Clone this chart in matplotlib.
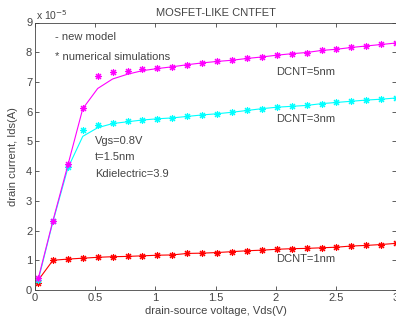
import matplotlib
matplotlib.use("Agg")
import matplotlib.pyplot as plt

plt.rcParams['font.family'] = ['Liberation Sans', 'DejaVu Sans']

vds = [0.025, 0.149, 0.273, 0.397, 0.521, 0.645, 0.769, 0.893, 1.017, 1.141,
       1.265, 1.389, 1.513, 1.637, 1.761, 1.885, 2.009, 2.133, 2.257, 2.381,
       2.505, 2.629, 2.753, 2.877, 3.0]

# numerical simulations (x 1e-5 A)
sim_5nm = [0.40, 2.33, 4.25, 6.11, 7.19, 7.34, 7.37, 7.43, 7.46, 7.51, 7.58,
           7.64, 7.69, 7.73, 7.79, 7.84, 7.90, 7.95, 7.99, 8.06, 8.10, 8.16,
           8.21, 8.26, 8.31]
sim_3nm = [0.35, 2.33, 4.15, 5.39, 5.56, 5.63, 5.67, 5.73, 5.76, 5.79, 5.84,
           5.89, 5.93, 5.98, 6.04, 6.10, 6.15, 6.18, 6.21, 6.27, 6.31, 6.35,
           6.39, 6.42, 6.46]
sim_1nm = [0.25, 1.00, 1.04, 1.07, 1.10, 1.12, 1.13, 1.15, 1.17, 1.18, 1.23,
           1.24, 1.26, 1.29, 1.32, 1.34, 1.37, 1.39, 1.40, 1.42, 1.44, 1.48,
           1.50, 1.53, 1.57]

# new model
mod_5nm = [0.35, 2.33, 4.20, 6.10, 6.78, 7.10, 7.26, 7.38, 7.45, 7.51, 7.58,
           7.64, 7.69, 7.73, 7.79, 7.84, 7.90, 7.95, 7.99, 8.06, 8.10, 8.16,
           8.21, 8.26, 8.31]
mod_3nm = [0.30, 2.30, 4.10, 5.17, 5.46, 5.60, 5.66, 5.72, 5.76, 5.79, 5.84,
           5.89, 5.93, 5.98, 6.04, 6.10, 6.15, 6.18, 6.21, 6.27, 6.31, 6.35,
           6.39, 6.42, 6.46]
mod_1nm = [0.32, 1.00, 1.04, 1.07, 1.10, 1.12, 1.13, 1.15, 1.17, 1.18, 1.23,
           1.24, 1.26, 1.29, 1.32, 1.34, 1.37, 1.39, 1.40, 1.42, 1.44, 1.48,
           1.50, 1.53, 1.57]

xticks = [0, 0.5, 1, 1.5, 2, 2.5, 3]
xticklabels = ['0', '0.5', '1', '1.5', '2', '2.5', '3']
yticks = [0, 1, 2, 3, 4, 5, 6, 7, 8, 9]

W, H = 396, 322
fig = plt.figure(figsize=(W / 100, H / 100), dpi=100)
ax = fig.add_axes([35 / W, (H - 290) / H, 361 / W, 267.5 / H])

tc = '#444444'
ast = (8, 2, 0)
for mod, sim, c in [(mod_1nm, sim_1nm, '#ff0000'), (mod_3nm, sim_3nm, '#00ffff'),
                    (mod_5nm, sim_5nm, '#ff00ff')]:
    ax.plot(vds, mod, '-', color=c, lw=0.8)
    ax.plot(vds, sim, linestyle='none', marker=ast, color=c, ms=5, mew=0.8)

ax.set_xlim(0, 3)
ax.set_ylim(0, 9)
ax.set_xticks(xticks)
ax.set_xticklabels(xticklabels)
ax.set_yticks(yticks)
ax.tick_params(direction='in', top=True, right=True, length=3, width=0.6,
               labelsize=8, colors=tc, pad=2)
for s in ax.spines.values():
    s.set_color(tc)
    s.set_linewidth(0.6)

ax.set_xlabel('drain-source voltage, Vds(V)', fontsize=8, color=tc, labelpad=2)
ax.set_ylabel('drain current, Ids(A)', fontsize=8, color=tc, labelpad=6)
ax.set_title('MOSFET-LIKE CNTFET', fontsize=8, color=tc, pad=5)

fig.text(36 / W, 1 - 15 / H, r'x 10$^{-5}$', fontsize=7.5, color=tc, va='center')

def t(x, y, s):
    fig.text(x / W, 1 - y / H, s, fontsize=8, color=tc, va='center', ha='left')

t(55, 37, '- new model')
t(55, 57, '* numerical simulations')
t(95, 141, 'Vgs=0.8V')
t(95, 157, 't=1.5nm')
t(95, 174, 'Kdielectric=3.9')
t(276, 72, 'DCNT=5nm')
t(276, 119, 'DCNT=3nm')
t(276, 259, 'DCNT=1nm')

fig.savefig('out.png', dpi=100)
